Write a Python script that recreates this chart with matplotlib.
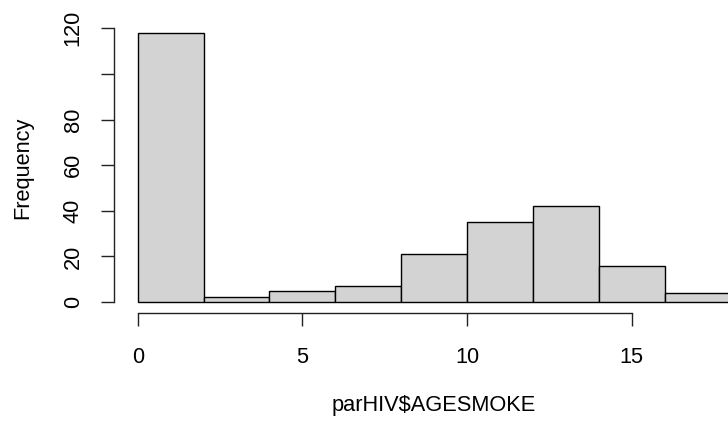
import matplotlib
matplotlib.use("Agg")
import matplotlib.pyplot as plt
import numpy as np

# Histogram data (bin edges and counts)
bin_edges = [0, 2, 4, 6, 8, 10, 12, 14, 16, 18]
counts = [118, 2, 5, 7, 21, 35, 42, 16, 4]
x_ticks = [0, 5, 10, 15]
y_ticks = [0, 20, 40, 60, 80, 100, 120]
y_tick_labels = ["0", "20", "40", "60", "80", "", "120"]
x_label = "parHIV$AGESMOKE"
y_label = "Frequency"

plt.rcParams['font.family'] = ['Liberation Sans', 'DejaVu Sans']
FS = 15.7

W, H = 728, 422
fig = plt.figure(figsize=(W / 100, H / 100), dpi=100)
left_px, right_px = 114.0, 754.1
top_px, bot_px = 22.1, 312.8
ax = fig.add_axes([left_px / W, 1 - bot_px / H, (right_px - left_px) / W, (bot_px - top_px) / H])

edges = np.array(bin_edges, dtype=float)
widths = np.diff(edges)
ax.bar(edges[:-1], counts, width=widths, align='edge', color='#D3D3D3',
       edgecolor='black', linewidth=1.0)

ymax = max(counts)
xr = edges[-1] - edges[0]
ax.set_xlim(edges[0] - 0.04 * xr, edges[-1] + 0.04 * xr)
ax.set_ylim(-0.04 * ymax, ymax * 1.04)

for s in ['top', 'right']:
    ax.spines[s].set_visible(False)
ax.spines['left'].set_bounds(y_ticks[0], y_ticks[-1])
ax.spines['bottom'].set_bounds(x_ticks[0], x_ticks[-1])
for s in ['left', 'bottom']:
    ax.spines[s].set_linewidth(1.0)
    ax.spines[s].set_color('#222222')

ax.set_xticks(x_ticks)
ax.set_xticklabels([str(v) for v in x_ticks])
ax.set_yticks(y_ticks)
ax.set_yticklabels(y_tick_labels, rotation=90, va='center')
ax.tick_params(axis='both', length=9.7, width=1.0, color='#222222',
               labelsize=FS, labelcolor='black')
ax.tick_params(axis='x', pad=15)
ax.tick_params(axis='y', pad=12)

fig.text(434 / W, 1 - 406 / H, x_label, ha='center', va='center', fontsize=FS)
fig.text(23 / W, 1 - 167.5 / H, y_label, ha='center', va='center', rotation=90, fontsize=FS)

fig.savefig("out.png", dpi=100)
